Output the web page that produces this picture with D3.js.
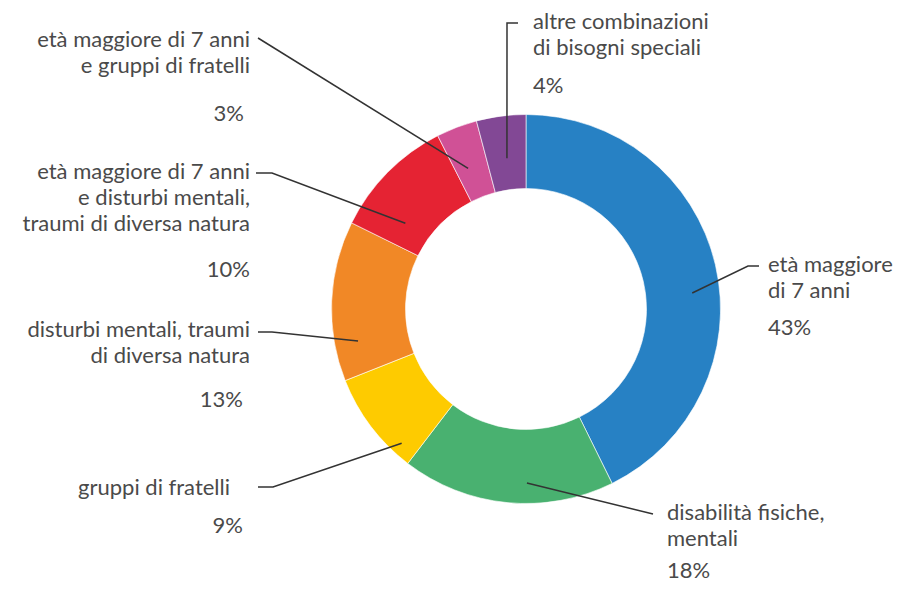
<!DOCTYPE html>
<html>
<head>
<meta charset="utf-8">
<script src="https://cdn.jsdelivr.net/npm/d3@7"></script>
<style>
  body { margin: 0; background: #fff; }
  svg text { font-family: Lato, "Open Sans", sans-serif; font-size: 22px; fill: #4a4a4a; }
</style>
</head>
<body>
<div id="chart"></div>
<script>
var categories = [
  "età maggiore di 7 anni",
  "disabilità fisiche, mentali",
  "gruppi di fratelli",
  "disturbi mentali, traumi di diversa natura",
  "età maggiore di 7 anni e disturbi mentali, traumi di diversa natura",
  "età maggiore di 7 anni e gruppi di fratelli",
  "altre combinazioni di bisogni speciali"
];
var values = [42.7, 17.7, 8.6, 13.3, 10.2, 3.4, 4.1];
var labelLines = [
  ["età maggiore", "di 7 anni"],
  ["disabilità fisiche,", "mentali"],
  ["gruppi di fratelli"],
  ["disturbi mentali, traumi", "di diversa natura"],
  ["età maggiore di 7 anni", "e disturbi mentali,", "traumi di diversa natura"],
  ["età maggiore di 7 anni", "e gruppi di fratelli"],
  ["altre combinazioni", "di bisogni speciali"]
];
var colors = ["#2781c4", "#49b170", "#fecb00", "#f18826", "#e52333", "#d05196", "#824895"];

// label layout: anchor in the slice (angle deg, radius), elbow/end of leader, text placement
var layout = [
  {a: 84.5,  r: 167, elbow: [748, 266], end: [759, 266], x: 768, y: 272, anchor: "start", px: 768, py: 335},
  {a: 179.7, r: 174, elbow: null,       end: [653, 514], x: 667, y: 520, anchor: "start", px: 667, py: 578},
  {a: 222.8, r: 183, elbow: [273, 487], end: [258, 487], x: 230, y: 495, anchor: "end",   px: 243, py: 533},
  {a: 259.2, r: 171, elbow: [272, 332], end: [258, 332], x: 250, y: 337, anchor: "end",   px: 243, py: 407},
  {a: 305.4, r: 148, elbow: [272, 173], end: [256, 173], x: 250, y: 179, anchor: "end",   px: 250, py: 277},
  {a: 337.6, r: 152, elbow: null,       end: [258, 38],  x: 250, y: 47,  anchor: "end",   px: 244, py: 121},
  {a: 352.8, r: 152, elbow: [507, 23],  end: [518, 23],  x: 533, y: 29,  anchor: "start", px: 533, py: 93}
];

var width = 904, height = 589;
var cx = 526, cy = 309, outerR = 194.5, innerR = 120.5;
var lineH = 26;

var data = categories.map(function(c, i) {
  return {name: c, value: values[i], lines: labelLines[i], color: colors[i], lay: layout[i]};
});

var svg = d3.select("#chart").append("svg")
    .attr("width", width)
    .attr("height", height);

var g = svg.append("g").attr("transform", "translate(" + cx + "," + cy + ")");

var pie = d3.pie().sort(null).value(function(d) { return d.value; });
var arc = d3.arc().innerRadius(innerR).outerRadius(outerR);

g.selectAll("path.slice")
  .data(pie(data))
  .enter().append("path")
    .attr("class", "slice")
    .attr("d", arc)
    .attr("fill", function(d) { return d.data.color; })
    .attr("stroke", "#fff")
    .attr("stroke-width", 0.6);

// leader lines
var total = d3.sum(values);
svg.selectAll("polyline.leader")
  .data(data)
  .enter().append("polyline")
    .attr("class", "leader")
    .attr("fill", "none")
    .attr("stroke", "#333")
    .attr("stroke-width", 1.5)
    .attr("points", function(d) {
      var t = d.lay.a * Math.PI / 180;
      var pts = [[cx + d.lay.r * Math.sin(t), cy - d.lay.r * Math.cos(t)]];
      if (d.lay.elbow) pts.push(d.lay.elbow);
      pts.push(d.lay.end);
      return pts.map(function(p) { return p.join(","); }).join(" ");
    });

// labels
var labels = svg.selectAll("g.label")
  .data(data)
  .enter().append("g")
    .attr("class", "label");

labels.append("text")
    .attr("text-anchor", function(d) { return d.lay.anchor; })
  .selectAll("tspan")
  .data(function(d) { return d.lines.map(function(l, i) { return {t: l, i: i, lay: d.lay}; }); })
  .enter().append("tspan")
    .attr("x", function(d) { return d.lay.x; })
    .attr("y", function(d) { return d.lay.y + d.i * lineH; })
    .text(function(d) { return d.t; });

labels.append("text")
    .attr("text-anchor", function(d) { return d.lay.anchor; })
    .attr("x", function(d) { return d.lay.px; })
    .attr("y", function(d) { return d.lay.py; })
    .text(function(d) { return Math.round(d.value / total * 100) + "%"; });
</script>
</body>
</html>
